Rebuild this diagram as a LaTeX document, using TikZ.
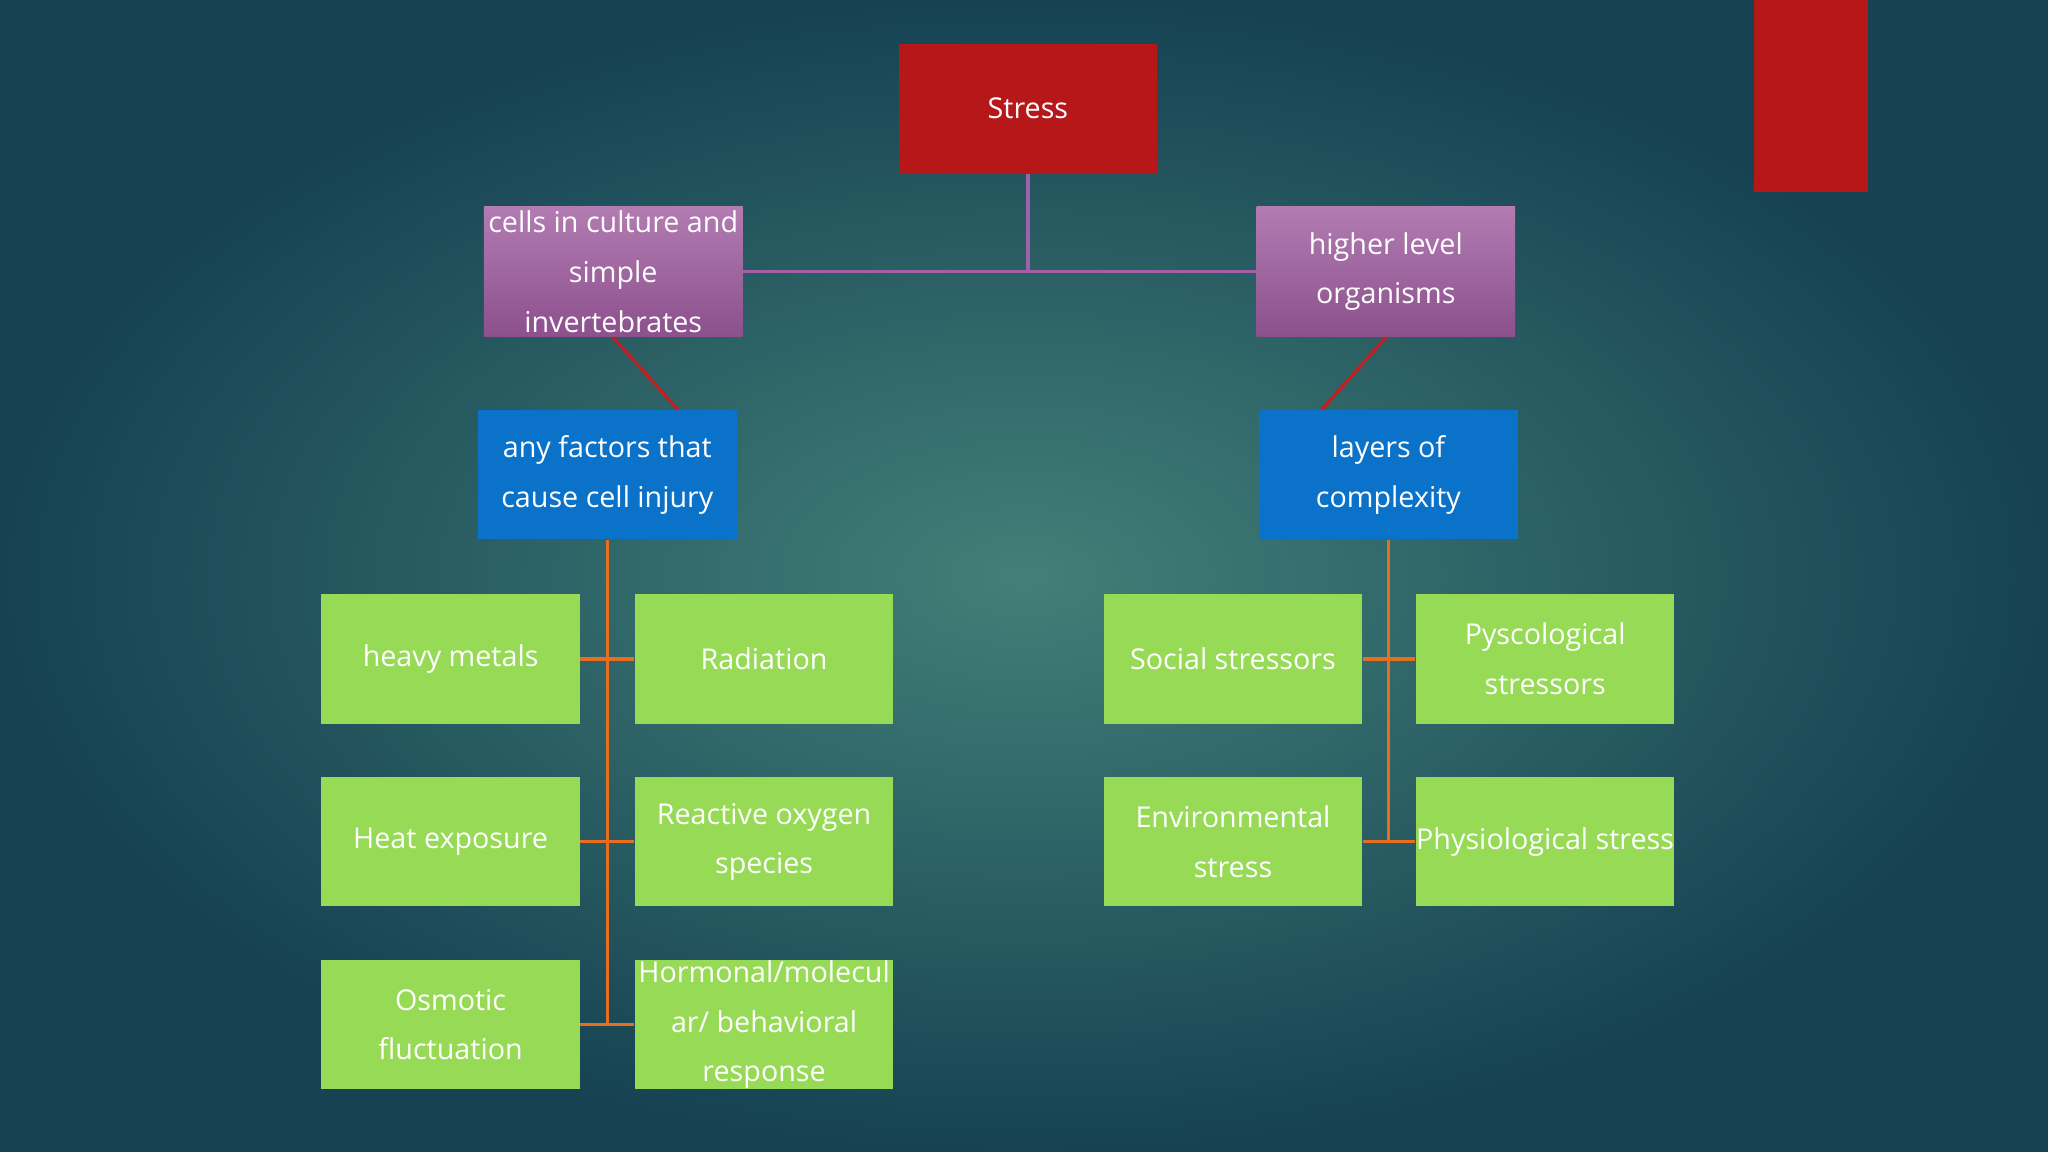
\documentclass[tikz,border=0pt]{standalone}
\usepackage{fontspec}
\setmainfont{Open Sans}
\begin{document}
\begin{tikzpicture}[x=0.02cm,y=-0.02cm,
  box/.style={rectangle,inner sep=0pt,minimum width=3.96cm,minimum height=1.98cm,align=center,text=white,font=\fontsize{12.5}{21.6}\selectfont},
  red/.style={box,fill={rgb,255:red,182;green,24;blue,26}},
  purp/.style={box,minimum height=2cm,top color={rgb,255:red,178;green,124;blue,178},bottom color={rgb,255:red,140;green,80;blue,140}},
  blu/.style={box,fill={rgb,255:red,10;green,114;blue,201}},
  grn/.style={box,fill={rgb,255:red,150;green,218;blue,86}},
  pl/.style={draw={rgb,255:red,160;green,96;blue,170},line width=1.4pt},
  rl/.style={draw={rgb,255:red,192;green,32;blue,32},line width=1.4pt},
  ol/.style={draw={rgb,255:red,230;green,110;blue,30},line width=1.4pt}]
\shade[inner color={rgb,255:red,66;green,128;blue,120},outer color={rgb,255:red,22;green,66;blue,82}] (0,0) rectangle (1568,882);
\useasboundingbox (0,0) rectangle (1568,882);
\node[red] (stress) at (787,83) {Stress};
\node[red,minimum width=1.74cm,minimum height=2.94cm] (rt) at (1386.5,73.5) {};
\node[purp] (pl) at (469.5,208) {cells in culture and\\simple\\invertebrates};
\node[purp] (pr) at (1061,208) {higher level\\organisms};
\node[blu] (bl) at (465,363.5) {any factors that\\cause cell injury};
\node[blu] (br) at (1063,363.5) {layers of\\complexity};
\node[grn] (a1) at (345,504.5) {heavy metals};
\node[grn] (a2) at (585,504.5) {Radiation};
\node[grn] (b1) at (345,644.5) {Heat exposure};
\node[grn] (b2) at (585,644.5) {Reactive oxygen\\species};
\node[grn] (c1) at (345,784.5) {Osmotic\\fluctuation};
\node[grn] (c2) at (585,784.5) {Hormonal/molecul\\ar/ behavioral\\response};
\node[grn] (d1) at (944,504.5) {Social stressors};
\node[grn] (d2) at (1183,504.5) {Pyscological\\stressors};
\node[grn] (e1) at (944,644.5) {Environmental\\stress};
\node[grn] (e2) at (1183,644.5) {Physiological stress};
\draw[pl] (stress.south) -- (stress.south |- pl.east);
\draw[pl] (pl.east) -- (pr.west);
\draw[rl] (pl.south) -- ([xshift=1.08cm]bl.north);
\draw[rl] (pr.south) -- ([xshift=-1.02cm]br.north);
\draw[ol] (bl.south) -- (bl.south |- c1.east);
\draw[ol] (a1.east) -- (a2.west);
\draw[ol] (b1.east) -- (b2.west);
\draw[ol] (c1.east) -- (c2.west);
\draw[ol] (br.south) -- (br.south |- e1.east);
\draw[ol] (d1.east) -- (d2.west);
\draw[ol] (e1.east) -- (e2.west);
\end{tikzpicture}
\end{document}
